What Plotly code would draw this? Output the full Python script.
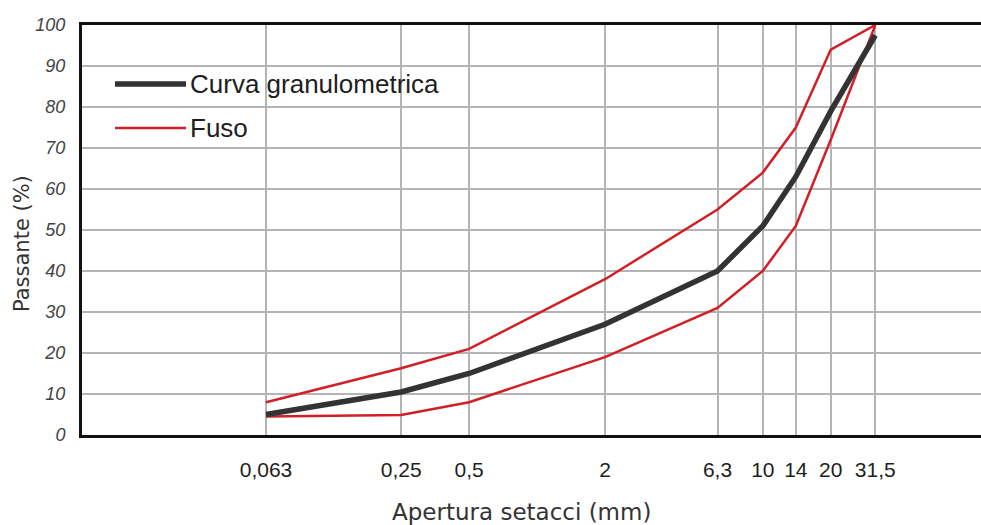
import plotly.graph_objects as go

# ---- data ----
sieves = [0.063, 0.25, 0.5, 2, 6.3, 10, 14, 20, 31.5]
sieve_labels = ["0,063", "0,25", "0,5", "2", "6,3", "10", "14", "20", "31,5"]
curva = [5, 10.5, 15, 27, 40, 51, 63, 79, 97.5]
fuso_sup = [8, 16.3, 21, 38, 55, 64, 75, 94, 100]
fuso_inf = [4.5, 4.9, 8, 19, 31, 40, 51, 72, 100]
y_ticks = [0, 10, 20, 30, 40, 50, 60, 70, 80, 90, 100]

RED = "#d21f26"
BLACK = "#333333"

fig = go.Figure()
fig.add_trace(go.Scatter(x=sieves, y=fuso_sup, mode="lines", name="Fuso",
                         line=dict(color=RED, width=2.5), showlegend=False))
fig.add_trace(go.Scatter(x=sieves, y=fuso_inf, mode="lines", name="Fuso",
                         line=dict(color=RED, width=2.5), showlegend=False))
fig.add_trace(go.Scatter(x=sieves, y=curva, mode="lines", name="Curva granulometrica",
                         line=dict(color=BLACK, width=5.5), showlegend=False))

W, H = 981, 525
L, R, T, B = 82, 0, 25, 90
pw, ph = W - L - R, H - T - B

def px(xp):
    return (xp - L) / pw

def py(yp):
    return (H - B - yp) / ph

fig.update_layout(
    width=W, height=H,
    margin=dict(l=L, r=R, t=T, b=B),
    paper_bgcolor="white", plot_bgcolor="white",
    xaxis=dict(type="log", range=[-2.0158, 1.9665],
               tickvals=sieves, ticktext=sieve_labels,
               showgrid=True, gridcolor="#b4b4b4", gridwidth=1.5,
               showline=True, linecolor="#111111", linewidth=3, mirror=True,
               ticks="", ticklabelstandoff=14,
               tickfont=dict(family="Liberation Sans", size=21, color="#1e1e1e"),
               zeroline=False),
    yaxis=dict(range=[0, 100], tickvals=y_ticks,
               showgrid=True, gridcolor="#b4b4b4", gridwidth=1.5,
               showline=True, linecolor="#111111", linewidth=3,
               ticks="", ticklabelstandoff=10,
               tickfont=dict(family="Liberation Sans", size=18, color="#444444", style="italic"),
               zeroline=False),
    showlegend=False,
)

# axis titles
fig.add_annotation(text="Apertura setacci (mm)", xref="paper", yref="paper",
                   x=px(521), y=py(512), xanchor="center", yanchor="middle", showarrow=False,
                   font=dict(family="DejaVu Sans", size=23, color="#333333"))
fig.add_annotation(text="Passante (%)", xref="paper", yref="paper",
                   x=px(22), y=py(244), xanchor="center", yanchor="middle",
                   showarrow=False, textangle=-90,
                   font=dict(family="DejaVu Sans", size=21, color="#333333"))

# custom legend
legend_items = [("Curva granulometrica", BLACK, 5.5, 84), ("Fuso", RED, 2.5, 128)]
for name, col, wdt, yy in legend_items:
    fig.add_shape(type="line", xref="paper", yref="paper",
                  x0=px(115), x1=px(186), y0=py(yy), y1=py(yy),
                  line=dict(color=col, width=wdt))
    fig.add_annotation(text=name, xref="paper", yref="paper",
                       x=px(188), y=py(yy), xanchor="left", yanchor="middle", showarrow=False,
                       font=dict(family="Liberation Sans", size=26, color="#1e1e1e"))

fig.write_html("out.html")
